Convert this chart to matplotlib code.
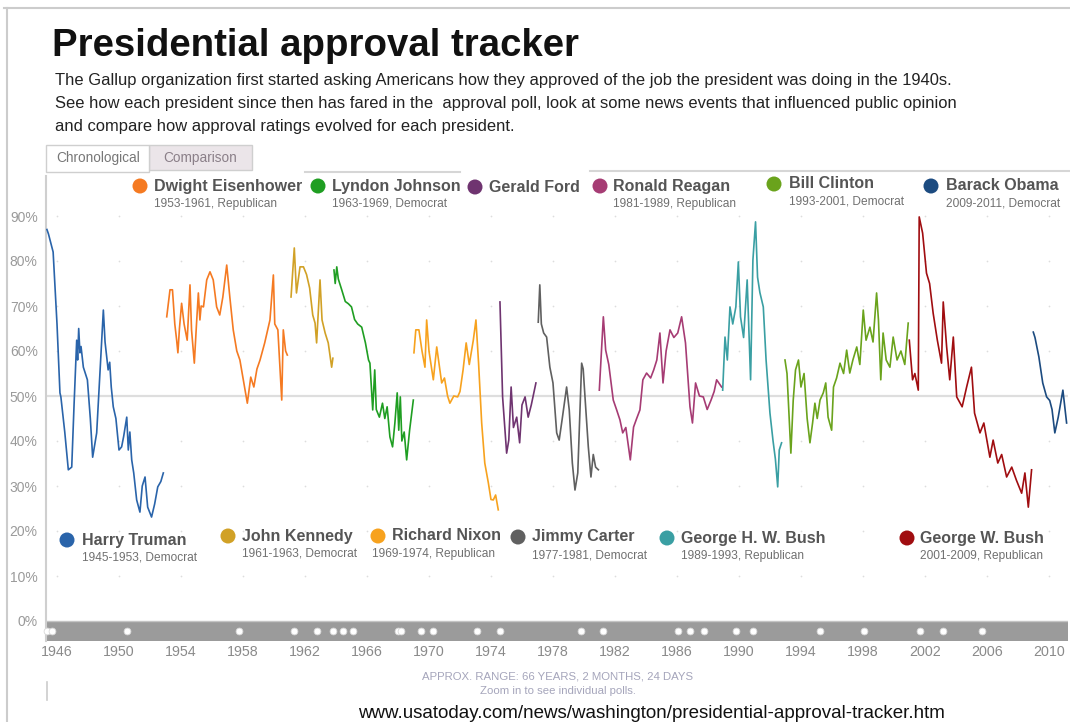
import matplotlib
matplotlib.use("Agg")
import matplotlib.pyplot as plt
from matplotlib import font_manager
from matplotlib.patches import Ellipse, Rectangle
from matplotlib.lines import Line2D

# ---------------- data ----------------
truman_years = [1945.35, 1945.45, 1945.75, 1946.0, 1946.19, 1946.25, 1946.5, 1946.73, 1946.95, 1947.1, 1947.27, 1947.33,
                1947.4, 1947.48, 1947.55, 1947.7, 1947.96, 1948.15, 1948.3, 1948.56, 1948.8, 1948.99, 1949.1, 1949.3,
                1949.4, 1949.5, 1949.63, 1949.8, 1950.0, 1950.17, 1950.3, 1950.5, 1950.6, 1950.7, 1950.82, 1950.95,
                1951.14, 1951.35, 1951.5, 1951.68, 1951.85, 1952.1, 1952.3, 1952.5, 1952.7, 1952.86]
truman_vals = [87, 86, 82, 66, 50.7, 49.8, 42, 33.6, 34.2, 48, 62.4, 58, 65, 59.6, 61, 56.4, 53.6, 45, 36.4, 41.8, 57,
               69.1, 62, 55.8, 57.5, 52, 47.6, 45, 38, 38.7, 41, 45.3, 38, 42, 35.8, 32.9, 26.9, 24.2, 30, 32, 25.3,
               23.1, 26, 29.8, 31, 32.9]

eisenhower_years = [1953.08, 1953.29, 1953.45, 1953.6, 1953.72, 1953.8, 1953.9, 1954.04, 1954.2, 1954.4, 1954.58,
                    1954.68, 1954.86, 1955.0, 1955.12, 1955.22, 1955.3, 1955.45, 1955.66, 1955.87, 1956.08, 1956.3,
                    1956.5, 1956.7, 1956.95, 1957.15, 1957.37, 1957.6, 1957.8, 1958.0, 1958.28, 1958.5, 1958.7,
                    1958.9, 1959.1, 1959.4, 1959.74, 1959.96, 1960.05, 1960.25, 1960.5, 1960.6, 1960.75, 1960.86]
eisenhower_vals = [67.6, 73.6, 73.6, 66, 62.4, 59.6, 65, 70.6, 66, 62.4, 74.7, 64.7, 57.3, 66, 72.9, 66.9, 70, 69.8,
                   75.8, 77.6, 75.8, 69.8, 68, 72, 79.1, 72, 64.7, 60, 58, 54, 48.4, 54.2, 52, 56, 58, 61.8, 66.9,
                   76.9, 66, 64.7, 49.1, 64.7, 60, 59.1]

kennedy_years = [1961.1, 1961.31, 1961.45, 1961.68, 1961.9, 1962.1, 1962.3, 1962.5, 1962.65, 1962.75, 1962.97,
                 1963.1, 1963.3, 1963.5, 1963.72, 1963.8]
kennedy_vals = [72, 82.9, 72.9, 78.7, 78.7, 77, 74, 68, 66.2, 61.8, 75.8, 66.9, 64, 61.8, 56.4, 58.4]

johnson_years = [1963.87, 1963.95, 1964.05, 1964.15, 1964.37, 1964.6, 1964.8, 1965.0, 1965.2, 1965.4, 1965.66,
                 1965.9, 1966.1, 1966.19, 1966.37, 1966.5, 1966.6, 1966.8, 1967.0, 1967.15, 1967.3, 1967.48,
                 1967.65, 1967.8, 1967.95, 1968.05, 1968.15, 1968.25, 1968.4, 1968.56, 1968.75, 1968.99]
johnson_vals = [78, 75, 78.7, 76, 73.6, 71, 70.5, 69.8, 67, 66, 65.3, 61.8, 58, 57.3, 46.9, 55.8, 47, 45.3, 48.4,
                45, 47.6, 40.9, 38.7, 44, 50.7, 42.4, 49.8, 40, 42, 35.8, 42.4, 49.1]

nixon_years = [1969.03, 1969.15, 1969.35, 1969.55, 1969.74, 1969.85, 1970.0, 1970.28, 1970.5, 1970.82, 1971.0,
               1971.2, 1971.35, 1971.6, 1971.85, 1972.0, 1972.2, 1972.4, 1972.6, 1972.86, 1973.03, 1973.2, 1973.4,
               1973.6, 1973.83, 1974.0, 1974.15, 1974.3, 1974.47]
nixon_vals = [59.6, 64.7, 64.7, 60, 56.4, 66.9, 60, 53.6, 60.9, 52.9, 54, 50, 48.4, 50, 49.8, 51, 55.8, 61.8, 57,
              62.4, 66.9, 57.3, 44, 35.1, 30.7, 27, 26.9, 28, 24.7]

ford_years = [1974.58, 1974.75, 1975.01, 1975.15, 1975.3, 1975.45, 1975.66, 1975.85, 1976.0, 1976.2, 1976.4,
              1976.6, 1976.9]
ford_vals = [70.9, 49.8, 37.3, 40.2, 52.0, 43, 45.3, 39.6, 48, 49.8, 45.3, 48, 52.9]

carter_years = [1977.05, 1977.15, 1977.25, 1977.4, 1977.59, 1977.8, 1978.0, 1978.24, 1978.4, 1978.6, 1978.88,
                1979.05, 1979.25, 1979.42, 1979.6, 1979.85, 1979.95, 1980.1, 1980.28, 1980.45, 1980.6, 1980.75,
                1980.93]
carter_vals = [66.4, 74.7, 66, 64, 63.1, 56.4, 52.9, 41.8, 40.2, 45, 52.0, 46.9, 35.1, 29.1, 32.9, 57.3, 56, 48,
               38.7, 32.0, 37, 34.2, 33.6]

reagan_years = [1980.99, 1981.25, 1981.4, 1981.6, 1981.89, 1982.1, 1982.32, 1982.5, 1982.7, 1982.99, 1983.2,
                1983.4, 1983.61, 1983.8, 1984.04, 1984.3, 1984.5, 1984.7, 1984.9, 1985.1, 1985.3, 1985.55, 1985.8,
                1986.05, 1986.3, 1986.55, 1986.84, 1987.0, 1987.2, 1987.45, 1987.7, 1987.95, 1988.2, 1988.4,
                1988.56, 1988.88]
reagan_vals = [51.3, 67.6, 60.2, 57, 49.1, 47, 44.7, 41.8, 43, 35.8, 43.1, 45, 46.9, 53.6, 55.1, 54, 55.8, 58, 64,
               52.9, 60, 64.7, 63, 64, 67.6, 61.8, 47.6, 44, 52.9, 50, 49.8, 47, 49.1, 51, 53.6, 52]

bush41_years = [1988.95, 1989.1, 1989.25, 1989.42, 1989.6, 1989.8, 1989.96, 1990.1, 1990.3, 1990.53, 1990.75,
                1990.9, 1991.07, 1991.2, 1991.35, 1991.57, 1991.75, 1992.0, 1992.2, 1992.35, 1992.5, 1992.6,
                1992.75]
bush41_vals = [51.3, 63.1, 58, 69.8, 66, 69.8, 79.8, 67.6, 63, 75.8, 53.6, 80.2, 88.7, 76.4, 73, 69.8, 58, 46.2,
               40, 36, 29.8, 38, 39.6]

clinton_years = [1992.97, 1993.1, 1993.35, 1993.5, 1993.65, 1993.84, 1994.0, 1994.2, 1994.4, 1994.58, 1994.75,
                 1994.9, 1995.05, 1995.23, 1995.44, 1995.6, 1995.75, 1995.98, 1996.1, 1996.3, 1996.52, 1996.75,
                 1996.95, 1997.15, 1997.35, 1997.6, 1997.8, 1998.02, 1998.2, 1998.45, 1998.65, 1998.88, 1999.0,
                 1999.15, 1999.3, 1999.5, 1999.74, 1999.95, 2000.2, 2000.45, 2000.7, 2000.92]
clinton_vals = [58, 55, 37.3, 49, 55.8, 58, 52, 55, 45, 39.6, 44, 48.4, 45, 49.1, 50.7, 52.9, 45.3, 42.4, 52, 54,
                57.3, 55, 60.2, 55.1, 58, 60.9, 57, 69.1, 62.4, 65.3, 62, 72.9, 66.9, 53.6, 64, 58, 56.4, 63.1, 58,
                60, 57, 66.2]

bush43_years = [2000.99, 2001.2, 2001.35, 2001.57, 2001.63, 2001.85, 2002.1, 2002.3, 2002.53, 2002.8, 2003.07,
                2003.18, 2003.4, 2003.6, 2003.83, 2004.05, 2004.4, 2004.69, 2005.0, 2005.2, 2005.55, 2005.8,
                2006.19, 2006.4, 2006.7, 2006.95, 2007.27, 2007.6, 2007.9, 2008.24, 2008.45, 2008.67, 2008.88]
bush43_vals = [62.4, 53.6, 55, 51.3, 89.8, 86.2, 77.3, 75, 68.4, 62.4, 57.3, 70.9, 60.9, 53.6, 63.1, 49.8, 47.6,
               52.0, 56.4, 46.2, 41.8, 44, 36.4, 40.2, 35.1, 37, 32.0, 34.2, 31.3, 28.4, 32.9, 25.3, 33.6]

obama_years = [2008.99, 2009.1, 2009.35, 2009.6, 2009.85, 2010.05, 2010.2, 2010.38, 2010.6, 2010.9, 2011.14]
obama_vals = [64.2, 63, 58.7, 52.9, 49.8, 49, 47, 41.8, 45.3, 51.3, 44.0]

event_years = [1945.35, 1945.68, 1950.52, 1957.74, 1961.29, 1962.77, 1963.81, 1964.45, 1965.1, 1968.0, 1968.2,
               1969.48, 1970.26, 1973.1, 1974.58, 1979.8, 1981.23, 1986.06, 1986.84, 1987.74, 1989.8, 1990.9,
               1995.23, 1998.06, 2001.68, 2003.16, 2005.68]

x_ticks = list(range(1946, 2011, 4))
y_ticks = list(range(0, 100, 10))
y_labels = [f"{v}%" for v in y_ticks]

presidents = [
    ("Harry Truman", "1945-1953, Democrat", truman_years, truman_vals, "#2a64aa"),
    ("Dwight Eisenhower", "1953-1961, Republican", eisenhower_years, eisenhower_vals, "#f57a22"),
    ("John Kennedy", "1961-1963, Democrat", kennedy_years, kennedy_vals, "#d1a126"),
    ("Lyndon Johnson", "1963-1969, Democrat", johnson_years, johnson_vals, "#1f9e22"),
    ("Richard Nixon", "1969-1974, Republican", nixon_years, nixon_vals, "#f7a21e"),
    ("Gerald Ford", "", ford_years, ford_vals, "#6f3470"),
    ("Jimmy Carter", "1977-1981, Democrat", carter_years, carter_vals, "#606060"),
    ("Ronald Reagan", "1981-1989, Republican", reagan_years, reagan_vals, "#a63c74"),
    ("George H. W. Bush", "1989-1993, Republican", bush41_years, bush41_vals, "#3a9fa3"),
    ("Bill Clinton", "1993-2001, Democrat", clinton_years, clinton_vals, "#6aa31c"),
    ("George W. Bush", "2001-2009, Republican", bush43_years, bush43_vals, "#a00d10"),
    ("Barack Obama", "2009-2011, Democrat", obama_years, obama_vals, "#1c4b80"),
]

# legend layout (pixel positions: circle x, name x, y, sub x)
legend_pos = {
    "Dwight Eisenhower": (140, 154, 186, 154),
    "Lyndon Johnson": (318, 332, 186, 332),
    "Gerald Ford": (475, 489, 187, 489),
    "Ronald Reagan": (600, 613, 186, 613),
    "Bill Clinton": (774, 789, 184, 789),
    "Barack Obama": (931, 946, 186, 946),
    "Harry Truman": (67, 82, 540, 82),
    "John Kennedy": (228, 242, 536, 242),
    "Richard Nixon": (378, 392, 536, 372),
    "Jimmy Carter": (518, 532, 537, 532),
    "George H. W. Bush": (667, 681, 538, 681),
    "George W. Bush": (907, 920, 538, 920),
}

# ---------------- fonts ----------------
names = {f.name for f in font_manager.fontManager.ttflist}
base = "Liberation Sans" if "Liberation Sans" in names else "DejaVu Sans"
narrow = "Liberation Sans Narrow" if "Liberation Sans Narrow" in names else base
plt.rcParams["font.family"] = [base, "DejaVu Sans"]

W, H = 1070, 722
fig = plt.figure(figsize=(W / 100, H / 100), dpi=100)
fig.patch.set_facecolor("white")


def fx(x):
    return x / W


def fy(y):
    return 1 - y / H


# main axes
x0, x1 = 1945.29, 2011.23
y0, y1 = -4.5, 99
ax = fig.add_axes([fx(46), fy(641.25), fx(1068) - fx(46), (641.25 - 175.5) / H])
ax.set_xlim(x0, x1)
ax.set_ylim(y0, y1)
for s in ["top", "right", "bottom"]:
    ax.spines[s].set_visible(False)
ax.spines["left"].set_color("#cfcfcf")
ax.spines["left"].set_linewidth(1.5)

ax.set_yticks(y_ticks)
ax.set_yticklabels(y_labels, color="#9a9a9a", fontsize=10)
ax.set_xticks(x_ticks)
ax.set_xticklabels([str(t) for t in x_ticks], color="#8a8a8a", fontsize=10.3)
ax.tick_params(axis="both", length=0)
ax.tick_params(axis="y", pad=6)
ax.tick_params(axis="x", pad=3)

# grid: faint dots every 4 years, solid 50% line
for v in y_ticks[1:]:
    if v == 50:
        ax.axhline(50, color="#dedede", lw=1.6, zorder=1)
    else:
        ax.scatter(x_ticks, [v] * len(x_ticks), s=1.5, color="#dddddd", zorder=1, linewidths=0)

# timeline band
ax.axhspan(y0, 0, color="#9b9b9b", zorder=2, lw=0)
ax.axhline(0, color="#c4c4c4", lw=1, zorder=2)
ax.scatter(event_years, [-2.3] * len(event_years), s=24, color="white", edgecolor="#d8d8d8",
           linewidths=0.6, zorder=3, clip_on=False)

# lines
for name, sub, yrs, vals, col in presidents:
    ax.plot(yrs, vals, color=col, lw=1.2, zorder=4, solid_joinstyle="round")

# legend entries
for name, sub, yrs, vals, col in presidents:
    cx, nx, yy, sx = legend_pos[name]
    fig.add_artist(Ellipse((fx(cx), fy(yy)), 15 / W, 15 / H, transform=fig.transFigure,
                           facecolor=col, edgecolor="none"))
    fig.text(fx(nx), fy(yy), name, fontsize=11.5, fontweight="bold", color="#555555",
             ha="left", va="center", family=[narrow, base])
    if sub:
        fig.text(fx(sx), fy(yy + 18), sub, fontsize=8.6, color="#707070", ha="left", va="center")

# title and subtitle
fig.text(fx(52), fy(46), "Presidential approval tracker", fontsize=27.6, fontweight="bold",
         color="#111111", ha="left", va="center", family=[narrow, base])
subs = ["The Gallup organization first started asking Americans how they approved of the job the president was doing in the 1940s.",
        "See how each president since then has fared in the  approval poll, look at some news events that influenced public opinion",
        "and compare how approval ratings evolved for each president."]
for i, line in enumerate(subs):
    fig.text(fx(55), fy(81 + i * 22.5), line, fontsize=11.9, color="#222222", ha="left", va="center",
             family=[narrow, base])

# tabs
fig.add_artist(Rectangle((fx(149), fy(170)), fx(252) - fx(149), (170 - 145) / H, transform=fig.transFigure,
                         facecolor="#ebe5e9", edgecolor="#cfcfcf", lw=1))
fig.add_artist(Rectangle((fx(46), fy(172)), fx(149) - fx(46), (172 - 145) / H, transform=fig.transFigure,
                         facecolor="white", edgecolor="#cfcfcf", lw=1))
fig.text(fx(98), fy(158), "Chronological", fontsize=9.8, color="#777777", ha="center", va="center")
fig.text(fx(200), fy(158), "Comparison", fontsize=9.8, color="#8a7f88", ha="center", va="center")

# panel top lines and borders
fig.add_artist(Line2D([fx(305), fx(460)], [fy(172), fy(172)], color="#d6d6d6", lw=1.5))
fig.add_artist(Line2D([fx(590), fx(1070)], [fy(171), fy(171)], color="#d6d6d6", lw=1.5))
fig.add_artist(Line2D([fx(4), fx(1070)], [fy(8), fy(8)], color="#cccccc", lw=1.5))
fig.add_artist(Line2D([fx(7), fx(7)], [fy(8), fy(722)], color="#cccccc", lw=1.5))
fig.add_artist(Line2D([fx(47), fx(47)], [fy(682), fy(700)], color="#cccccc", lw=1.2))

# footer texts
fig.text(fx(558), fy(676.5), "APPROX. RANGE: 66 YEARS, 2 MONTHS, 24 DAYS", fontsize=8.2, color="#a5a5bb",
         ha="center", va="center")
fig.text(fx(558), fy(690.5), "Zoom in to see individual polls.", fontsize=8.2, color="#a5a5bb",
         ha="center", va="center")
fig.text(fx(651), fy(714), "www.usatoday.com/news/washington/presidential-approval-tracker.htm", fontsize=13.5,
         color="#111111", ha="center", va="center")

fig.savefig("out.png", dpi=100, facecolor="white")
